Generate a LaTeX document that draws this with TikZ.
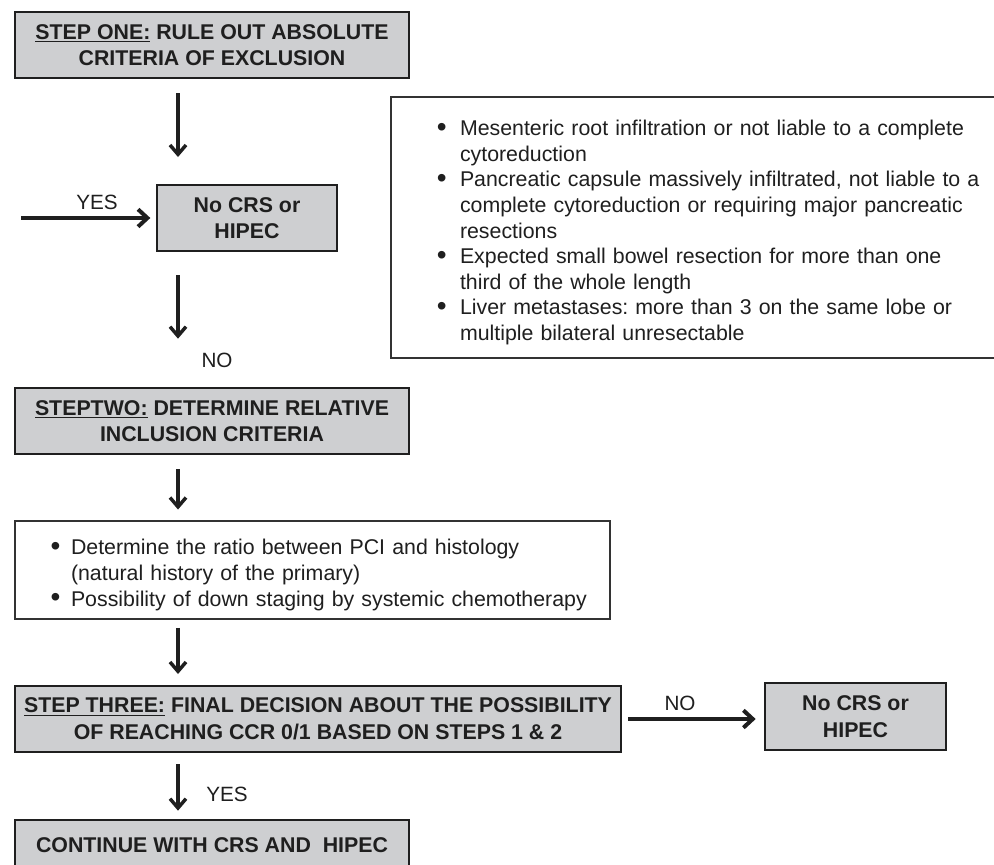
\documentclass[tikz,border=0pt]{standalone}
\usepackage{fontspec}
\setmainfont{Liberation Sans}
\usepackage{enumitem}
\usetikzlibrary{arrows.meta}

\begin{document}
\begin{tikzpicture}[x=0.75pt,y=-0.75pt]
% Colors
\definecolor{boxgray}{RGB}{206,207,209}
\colorlet{inkcolor}{black!88}
% Styles
\tikzstyle{stepbox}=[draw=inkcolor,fill=boxgray,line width=2pt,inner sep=0pt,align=center,text=inkcolor,font=\fontsize{16}{20}\selectfont\bfseries]
\tikzstyle{listbox}=[draw=black!80,line width=1.2pt,inner sep=0pt,text=inkcolor,font=\fontsize{16}{19.2}\selectfont\frenchspacing]
\tikzstyle{answer}=[text=inkcolor,font=\fontsize{15.5}{18}\selectfont]
\tikzstyle{down}=[draw=inkcolor,line width=2.6pt,-{Straight Barb[length=7pt,width=12pt]}]
\tikzstyle{across}=[draw=inkcolor,line width=3pt,-{Straight Barb[length=7pt,width=13pt]}]
\newcommand{\listdot}{\raisebox{-0.6pt}{\fontsize{21}{21}\selectfont\textbullet}}
% The graphic
\useasboundingbox[fill=white] (0,0) rectangle (994,864);
\coordinate (spine) at (178,0);
\coordinate (yesin) at (21,218);
\node[stepbox,minimum width=295.5pt,minimum height=49.5pt] (stepone) at (212,45)
  {\underline{STEP ONE:} RULE OUT ABSOLUTE\\CRITERIA OF EXCLUSION};
\node[stepbox,minimum width=135pt,minimum height=49.5pt] (noA) at (247,218) {No CRS or\\HIPEC};
\node[listbox,text width=456.75pt,minimum height=195.75pt] (exclusion) at (695.5,227.5) {%
  \begin{itemize}[nosep,leftmargin=51.75pt,labelsep=10pt,label=\listdot]
  \item Mesenteric root infiltration or not liable to a complete\newline cytoreduction
  \item Pancreatic capsule massively infiltrated, not liable to a\newline complete cytoreduction or requiring major pancreatic\newline resections
  \item Expected small bowel resection for more than one\newline third of the whole length
  \item Liver metastases: more than 3 on the same lobe or\newline multiple bilateral unresectable
  \end{itemize}};
\node[stepbox,minimum width=295.5pt,minimum height=49.5pt] (steptwo) at (212,421)
  {\underline{STEPTWO:} DETERMINE RELATIVE\\INCLUSION CRITERIA};
\node[listbox,text width=446.25pt,minimum height=73.5pt] (ratio) at (312.5,570) {%
  \begin{itemize}[nosep,leftmargin=42pt,labelsep=8pt,label=\listdot]
  \item Determine the ratio between PCI and histology\newline (natural history of the primary)
  \item Possibility of down staging by systemic chemotherapy
  \end{itemize}};
\node[stepbox,minimum width=454.5pt,minimum height=49.5pt] (stepthree) at (318,719)
  {\underline{STEP THREE:} FINAL DECISION ABOUT THE POSSIBILITY\\OF REACHING CCR 0/1 BASED ON STEPS 1 \& 2};
\node[stepbox,minimum width=135.75pt,minimum height=50.25pt] (noB) at (855.5,716.5) {No CRS or\\HIPEC};
\node[stepbox,minimum width=295.5pt,minimum height=37.5pt] (cont) at (212,845) {CONTINUE WITH CRS AND\ \ HIPEC};
% answers
\node[answer] (yesA) at (97,202) {YES};
\node[answer] (noAlab) at (217,360) {NO};
\node[answer] (noBlab) at (680,703) {NO};
\node[answer] (yesB) at (227,794) {YES};
% arrows
\draw[across,shorten >=4pt] (yesin) -- (noA.west);
\draw[down,shorten <=10.5pt,shorten >=20pt] (stepone.south -| spine) -- (noA.north -| spine);
\draw[down,shorten <=17pt,shorten >=36pt] (noA.south -| spine) -- (steptwo.north -| spine);
\draw[down,shorten <=10.5pt,shorten >=8pt] (steptwo.south -| spine) -- (ratio.north -| spine);
\draw[down,shorten <=6pt,shorten >=8pt] (ratio.south -| spine) -- (stepthree.north -| spine);
\draw[down,shorten <=8pt,shorten >=6pt] (stepthree.south -| spine) -- (cont.north -| spine);
\draw[across,shorten <=4.5pt,shorten >=6pt] (stepthree.east) -- (stepthree.east -| noB.west);
\end{tikzpicture}
\end{document}
